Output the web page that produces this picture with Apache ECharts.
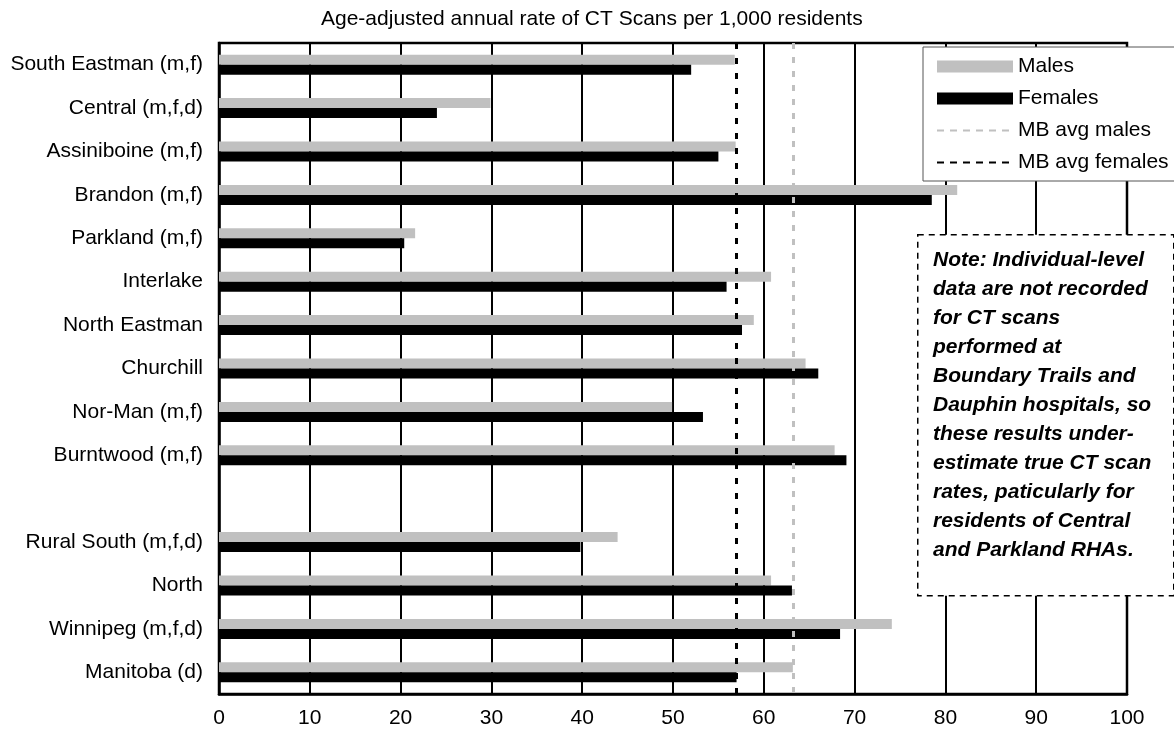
<!DOCTYPE html>
<html>
<head>
<meta charset="utf-8">
<script src="https://cdn.jsdelivr.net/npm/echarts@6/dist/echarts.min.js"></script>
<style>
html,body{margin:0;padding:0;background:#fff;}
#chart{width:1174px;height:744px;}
</style>
</head>
<body>
<div id="chart"></div>
<script>
const categories = ['South Eastman (m,f)', 'Central (m,f,d)', 'Assiniboine (m,f)', 'Brandon (m,f)', 'Parkland (m,f)', 'Interlake', 'North Eastman', 'Churchill', 'Nor-Man (m,f)', 'Burntwood (m,f)', '', 'Rural South (m,f,d)', 'North', 'Winnipeg (m,f,d)', 'Manitoba (d)'];
const males   = [56.8, 29.9, 56.9, 81.3, 21.6, 60.8, 58.9, 64.6, 49.9, 67.8, null, 43.9, 60.8, 74.1, 63.2];
const females = [52.0, 24.0, 55.0, 78.5, 20.4, 55.9, 57.6, 66.0, 53.3, 69.1, null, 39.8, 63.1, 68.4, 57.0];
const mbAvgMales = 63.2;
const mbAvgFemales = 57.0;
const xTicks = [0, 10, 20, 30, 40, 50, 60, 70, 80, 90, 100];
const titleText = 'Age-adjusted annual rate of CT Scans per 1,000 residents';
const noteLines = ['Note: Individual-level', 'data are not recorded', 'for CT scans', 'performed at', 'Boundary Trails and', 'Dauphin hospitals, so', 'these results under-', 'estimate true CT scan', 'rates, paticularly for', 'residents of Central', 'and Parkland RHAs.'];

const FONT = '"Liberation Sans", Arial, sans-serif';
const chart = echarts.init(document.getElementById('chart'), null, {renderer: 'canvas'});
chart.setOption({
  animation: false,
  backgroundColor: '#fff',
  textStyle: {fontFamily: FONT},
  title: {
    text: titleText, left: 316, top: 4,
    textStyle: {fontSize: 21, fontWeight: 'normal', color: '#000', fontFamily: FONT}
  },
  grid: {left: 219, right: 47, top: 43, bottom: 50, show: true, borderColor: '#000', borderWidth: 2.5, containLabel: false},
  legend: {
    orient: 'vertical', left: 923, top: 47,
    itemWidth: 76, itemHeight: 12, itemGap: 11,
    backgroundColor: '#fff', borderColor: '#555', borderWidth: 1, borderRadius: 0,
    padding: [9, 60, 8, 13],
    textStyle: {fontSize: 21, color: '#000', fontFamily: FONT},
    data: [
      {name: 'Males', icon: 'rect'},
      {name: 'Females', icon: 'rect'},
      {name: 'MB avg males', itemStyle: {opacity: 0}},
      {name: 'MB avg females', itemStyle: {opacity: 0}}
    ],
    z: 10
  },
  xAxis: {
    type: 'value', min: xTicks[0], max: xTicks[xTicks.length - 1], interval: 10,
    axisLine: {show: true, lineStyle: {color: '#000', width: 2.5}},
    axisTick: {show: false},
    axisLabel: {fontSize: 21, color: '#000', margin: 14, fontFamily: FONT},
    splitLine: {show: true, lineStyle: {color: '#000', width: 2}}
  },
  yAxis: {
    type: 'category', data: categories, inverse: true,
    axisLine: {show: true, lineStyle: {color: '#000', width: 2.5}},
    axisTick: {show: false},
    axisLabel: {fontSize: 21, color: '#000', margin: 16, fontFamily: FONT},
    splitLine: {show: false}
  },
  series: [
    {name: 'Males', type: 'bar', data: males, barWidth: 10, barGap: '0%', itemStyle: {color: '#c0c0c0'}, z: 2},
    {name: 'Females', type: 'bar', data: females, barWidth: 10, barGap: '0%', itemStyle: {color: '#000'}, z: 2},
    {name: 'MB avg males', type: 'line', data: [], symbol: 'none',
      lineStyle: {color: '#c0c0c0', width: 3, type: [7, 6]}, itemStyle: {color: '#c0c0c0', opacity: 0},
      markLine: {silent: true, symbol: 'none', label: {show: false}, z: 5,
        lineStyle: {color: '#c0c0c0', width: 3, type: [6, 8], opacity: 1}, data: [{xAxis: mbAvgMales}]}},
    {name: 'MB avg females', type: 'line', data: [], symbol: 'none',
      lineStyle: {color: '#000', width: 3, type: [7, 6]}, itemStyle: {color: '#000', opacity: 0},
      markLine: {silent: true, symbol: 'none', label: {show: false}, z: 6,
        lineStyle: {color: '#000', width: 3, type: [6, 9], opacity: 1}, data: [{xAxis: mbAvgFemales}]}}
  ],
  graphic: [
    {type: 'rect', left: 917, top: 234, z: 100, shape: {x: 0, y: 0, width: 256, height: 361},
      style: {fill: '#fff', stroke: '#000', lineWidth: 1.5, lineDash: [6, 5]}},
    {type: 'text', left: 933, top: 246, z: 101,
      style: {text: noteLines.join('\n'), font: 'italic bold 21px "Liberation Sans", Arial, sans-serif', fill: '#000', lineHeight: 29}}
  ]
});
</script>
</body>
</html>
